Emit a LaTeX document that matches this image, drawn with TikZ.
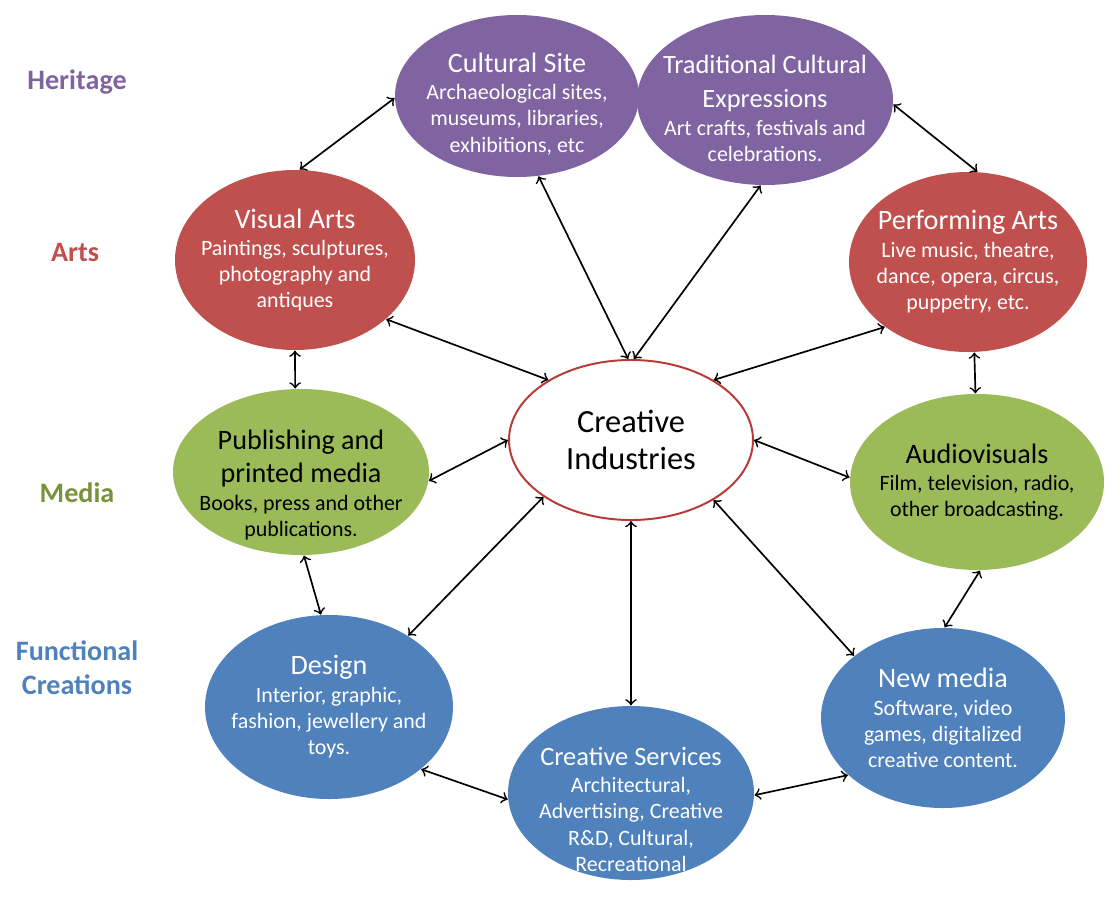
\documentclass[tikz,border=0pt]{standalone}
\usepackage{fontspec}
\setmainfont{Carlito}
\usetikzlibrary{shapes.geometric}

\definecolor{herit}{HTML}{8064A2}
\definecolor{arts}{HTML}{C0504D}
\definecolor{media}{HTML}{9BBB59}
\definecolor{mediatext}{HTML}{77933C}
\definecolor{func}{HTML}{4F81BD}
\definecolor{coreline}{HTML}{B83A37}

% title line of a sector, optional size in pt
\newcommand{\ttl}[2][10]{{\fontsize{#1}{12}\selectfont #2}}
% taller first line, pushes the text block down
\newcommand{\txtdrop}[1]{\rule{0pt}{#1}}

\begin{document}
\begin{tikzpicture}[x=0.125mm,y=-0.125mm]

		\tikzstyle{sector}=[ellipse,draw=none,text=white,
			inner sep=-3mm,align=center,
			font=\fontsize{7.8}{9.3}\selectfont]
		\tikzstyle{core}=[ellipse,draw=coreline,fill=white,line width=0.7pt,
			minimum width=30.5mm,minimum height=20mm,inner sep=-3mm,
			align=center,font=\fontsize{11.5}{13}\selectfont]
		\tikzstyle{category}=[align=center,font=\bfseries\fontsize{10}{12}\selectfont]
		\tikzstyle{link}=[<->,>=to,semithick]

		\useasboundingbox (0,0) rectangle (1120,900);

		% category labels
		\node[category,text=herit]	(heritage)	at (77,82)	{Heritage};
		\node[category,text=arts]	(artslbl)	at (75,252)	{Arts};
		\node[category,text=mediatext]	(medialbl)	at (77,493)	{Media};
		\node[category,text=func]	(funclbl)	at (77,668)	{Functional\\Creations};

		% sectors
		\node[sector,fill=herit,minimum width=30.5mm,minimum height=20.25mm]	(site)	at (517,96)
			{\ttl{\txtdrop{12.5pt}Cultural Site}\\[0.5pt]Archaeological sites,\\museums, libraries,\\exhibitions, etc};
		\node[sector,fill=herit,minimum width=32mm,minimum height=21.25mm]	(trad)	at (765,100)
			{\ttl[9.4]{\txtdrop{12.5pt}Traditional Cultural}\\[2.7pt]\ttl[9.4]{Expressions}\\[0.5pt]Art crafts, festivals and\\celebrations.};
		\node[sector,fill=arts,minimum width=30mm,minimum height=22.5mm]	(visual)	at (295,260)
			{\ttl{Visual Arts}\\[0.5pt]Paintings, sculptures,\\photography and\\antiques};
		\node[sector,fill=arts,minimum width=29.75mm,minimum height=22.5mm]	(perform)	at (968,262)
			{\ttl{Performing Arts}\\[0.5pt]Live music, theatre,\\dance, opera, circus,\\puppetry, etc.};
		\node[sector,fill=media,text=black,minimum width=32mm,minimum height=20.75mm]	(publish)	at (301,472)
			{\ttl{\txtdrop{16pt}Publishing and}\\[2.7pt]\ttl{printed media}\\[0.5pt]Books, press and other\\publications.};
		\node[sector,fill=media,text=black,minimum width=31.75mm,minimum height=22mm]	(audio)	at (977,482)
			{\ttl{Audiovisuals}\\[0.5pt]Film, television, radio,\\other broadcasting.};
		\node[sector,fill=func,minimum width=31mm,minimum height=23mm]	(design)	at (329,707)
			{\ttl{Design}\\[0.5pt]Interior, graphic,\\fashion, jewellery and\\toys.};
		\node[sector,fill=func,minimum width=30.75mm,minimum height=21.75mm]	(services)	at (631,793)
			{\ttl[9.4]{\txtdrop{18pt}Creative Services}\\[0.5pt]Architectural,\\Advertising, Creative\\R\&D, Cultural,\\Recreational};
		\node[sector,fill=func,minimum width=30.5mm,minimum height=22.5mm]	(newmedia)	at (943,718)
			{\ttl{New media}\\[0.5pt]Software, video\\games, digitalized\\creative content.};

		% centre
		\node[core]	(creative)	at (631,440)	{Creative\\Industries};

		% links
		\draw[link] (visual.87) -- (site.181);
		\draw[link] (trad.358) -- (perform.84);
		\draw[link] (site.285) -- (creative.92);
		\draw[link] (trad.267) -- (creative.88);
		\draw[link] (visual.327) -- (creative.144);
		\draw[link] (perform.218) -- (creative.36);
		\draw[link] (visual.270) -- (publish.94);
		\draw[link] (perform.274) -- (audio.91);
		\draw[link] (publish.356) -- (creative.180);
		\draw[link] (creative.0) -- (audio.178);
		\draw[link] (publish.272) -- (design.95);
		\draw[link] (audio.272) -- (newmedia.89);
		\draw[link] (design.42) -- (creative.213);
		\draw[link] (services.90) -- (creative.270);
		\draw[link] (newmedia.145) -- (creative.324);
		\draw[link] (design.326) -- (services.183);
		\draw[link] (newmedia.211) -- (services.359);

	\end{tikzpicture}
\end{document}
